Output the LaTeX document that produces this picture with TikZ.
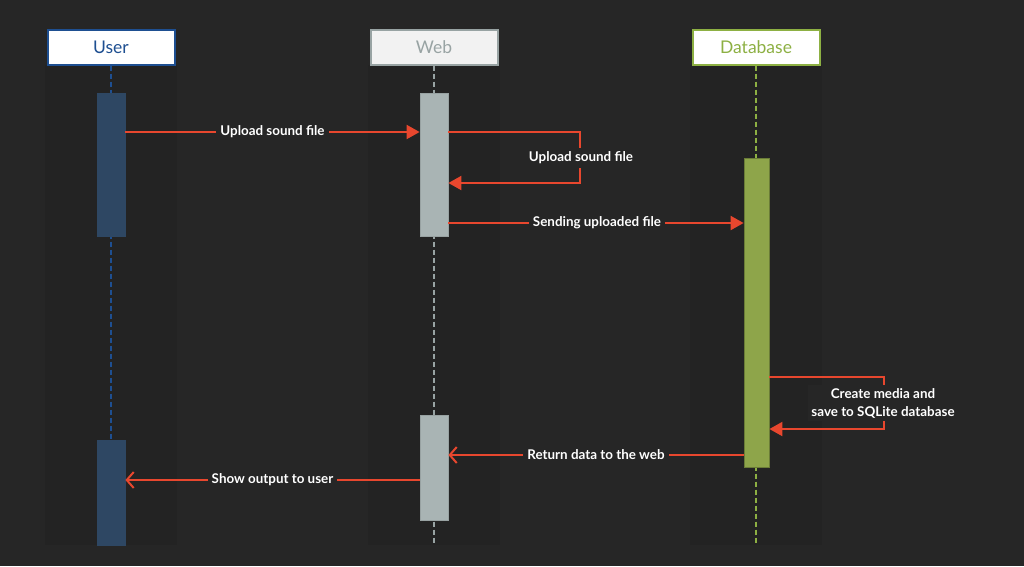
\documentclass[tikz,border=0pt]{standalone}
\usepackage{fontspec}
\setmainfont{Lato}
\usetikzlibrary{arrows.meta}

\definecolor{bg}{HTML}{262626}
\definecolor{lane}{HTML}{232323}
\definecolor{userblue}{HTML}{1E4F91}
\definecolor{userbar}{HTML}{2E4763}
\definecolor{webgrey}{HTML}{98A3A3}
\definecolor{webbar}{HTML}{A9B4B4}
\definecolor{dbgreen}{HTML}{8DB043}
\definecolor{dbbar}{HTML}{8EA54A}
\definecolor{msgred}{HTML}{E8472E}

\begin{document}
\begin{tikzpicture}[x=1pt,y=-1pt,
  head/.style={draw,line width=2pt,minimum width=127pt,minimum height=35pt,inner sep=0pt,font=\fontsize{17.5}{20}\selectfont},
  bar/.style={inner sep=0pt,minimum width=28pt,line width=0.8pt},
  life/.style={line width=1.6pt,dash pattern=on 5pt off 3pt},
  msg/.style={draw=msgred,line width=2pt},
  full/.style={-{Triangle[length=13pt,width=14pt]}},
  open/.style={-{Straight Barb[length=7pt,width=16pt,line width=2pt]}},
  lbl/.style={fill=bg,text=white,inner sep=4pt,font=\bfseries\fontsize{13.4}{18}\selectfont,align=center}]

  % background and lanes
  \fill[bg] (0,0) rectangle (1024,566);
  \fill[lane] (45,65) rectangle (177,545);
  \fill[lane] (368,65) rectangle (500,545);
  \fill[lane] (690,65) rectangle (822,545);

  % headers
  \node[head,draw=userblue,fill=white,text=userblue] (user) at (111,47) {User};
  \node[head,draw=webgrey,fill=white!95!black,text=webgrey] (web) at (434,47) {Web};
  \node[head,draw=dbgreen,fill=white,text=dbgreen] (db) at (756,47) {Database};

  \coordinate (userend) at (111,545);
  \coordinate (webend) at (434,545);
  \coordinate (dbend) at (756,545);

  % lifelines
  \draw[life,userblue] (user.south) -- (userend);
  \draw[life,webgrey] (web.south) -- (webend);
  \draw[life,dbgreen] (db.south) -- (dbend);

  % activations
  \node[bar,fill=userbar,draw=userbar,minimum height=143pt] (ua1) at (111,164.5) {};
  \node[bar,fill=userbar,draw=userbar,minimum height=105pt] (ua2) at (111,492.5) {};
  \node[bar,fill=webbar,draw=webbar!90!black,minimum height=143pt] (wa1) at (434,164.5) {};
  \node[bar,fill=webbar,draw=webbar!90!black,minimum height=105pt] (wa2) at (434,467.5) {};
  \node[bar,fill=dbbar,draw=dbbar!75!black,minimum width=25pt,minimum height=309pt] (da1) at (756.5,312.5) {};

  % message rows
  \coordinate (m1) at (0,132);
  \coordinate (m2) at (0,183);
  \coordinate (m3) at (0,223);
  \coordinate (m4) at (0,377);
  \coordinate (m5) at (0,429);
  \coordinate (m6) at (0,455);
  \coordinate (m7) at (0,480);
  \coordinate (loopw) at (580,0);
  \coordinate (loopd) at (884,0);

  % messages
  \draw[msg,full] (ua1.east |- m1) -- node[lbl] {Upload sound file} (wa1.west |- m1);
  \draw[msg,full] (wa1.east |- m1) -- (loopw |- m1) -- (loopw |- m2) -- (wa1.east |- m2);
  \node[lbl] (lw) at (581,158) {Upload sound file};
  \draw[msg,full] (wa1.east |- m3) -- node[lbl,xshift=1pt] {Sending uploaded file} (da1.west |- m3);
  \draw[msg,full] (da1.east |- m4) -- (loopd |- m4) -- (loopd |- m5) -- (da1.east |- m5);
  \node[lbl,inner sep=3pt] (ld) at (883,403) {Create media and\\save to SQLite database};
  \draw[msg,open] (da1.west |- m6) -- node[lbl] {Return data to the web} (wa2.east |- m6);
  \draw[msg,open] (wa2.west |- m7) -- node[lbl] {Show output to user} (ua2.east |- m7);
\end{tikzpicture}
\end{document}
